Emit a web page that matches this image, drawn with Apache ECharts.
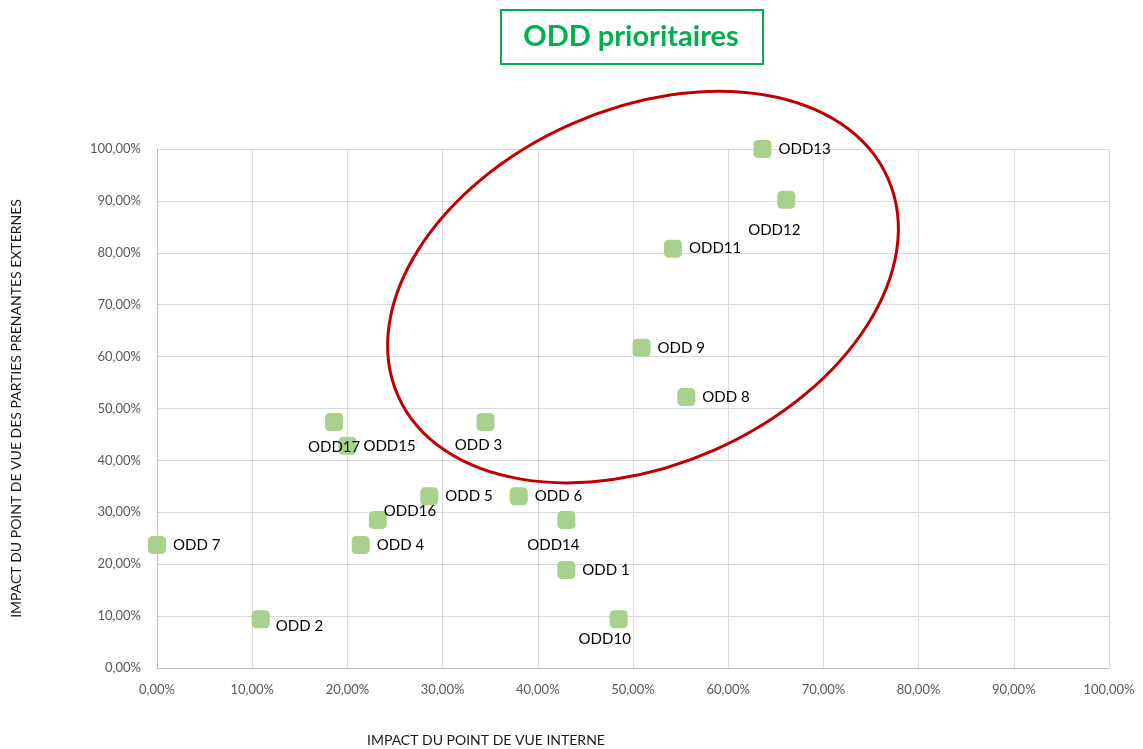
<!DOCTYPE html>
<html>
<head>
<meta charset="utf-8">
<script src="https://cdn.jsdelivr.net/npm/echarts@6/dist/echarts.min.js"></script>
<style>
html,body{margin:0;padding:0;background:#fff;}
#c{width:1143px;height:749px;}
</style>
</head>
<body>
<div id="c"></div>
<script>
// ---- Data (percent values) ----
var names   = ['ODD13','ODD12','ODD11','ODD 9','ODD 8','ODD 3','ODD17','ODD15','ODD 5','ODD 6','ODD16','ODD14','ODD 4','ODD 7','ODD 1','ODD 2','ODD10'];
var xValues = [63.6, 66.1, 54.2, 50.9, 55.6, 34.5, 18.6, 20.0, 28.6, 38.0, 23.2, 43.0, 21.4, 0.0, 43.0, 10.9, 48.5];
var yValues = [100.0, 90.2, 80.8, 61.7, 52.2, 47.4, 47.4, 42.8, 33.1, 33.1, 28.5, 28.5, 23.7, 23.7, 18.9, 9.4, 9.4];
var axisTicks = [0, 10, 20, 30, 40, 50, 60, 70, 80, 90, 100];
var chartTitle = 'ODD prioritaires';
var xAxisTitle = 'IMPACT DU POINT DE VUE INTERNE';
var yAxisTitle = 'IMPACT DU POINT DE VUE DES PARTIES PRENANTES EXTERNES';
var ellipseCenter = [51.05, 73.4]; // in data units

// ---- label placement (style) ----
var labelStyle = {
  'ODD12': {position: 'bottom', distance: 14, offset: [-12, 0]},
  'ODD 3': {position: 'bottom', distance: 7, offset: [-7, 0]},
  'ODD17': {position: 'bottom', distance: 9, offset: [0, 0]},
  'ODD16': {position: 'right', distance: 5, offset: [-8, -9]},
  'ODD14': {position: 'bottom', distance: 9, offset: [-13, 0]},
  'ODD 2': {position: 'right', distance: 6, offset: [0, 7]},
  'ODD10': {position: 'bottom', distance: 3, offset: [-14, 0]}
};

var FONT = 'Lato, "Open Sans", sans-serif';
function pct(v){ return v.toFixed(2).replace('.', ',') + '%'; }

var seriesData = names.map(function(n, i){
  var d = {name: n, value: [xValues[i], yValues[i]]};
  var ls = labelStyle[n];
  d.label = ls ? {position: ls.position, distance: ls.distance, offset: ls.offset}
               : {position: 'right', distance: 7};
  return d;
});

var chart = echarts.init(document.getElementById('c'), null, {renderer: 'canvas'});
var option = {
  animation: false,
  backgroundColor: '#ffffff',
  grid: {left: 157, right: 34, top: 149, bottom: 81, containLabel: false},
  xAxis: {
    type: 'value', min: axisTicks[0], max: axisTicks[axisTicks.length-1], interval: 10,
    axisLine: {show: true, lineStyle: {color: '#bfbfbf', width: 1}},
    axisTick: {show: false},
    splitLine: {show: true, lineStyle: {color: '#d9d9d9', width: 1}},
    axisLabel: {formatter: pct, color: '#595959', fontFamily: FONT, fontSize: 13, margin: 15}
  },
  yAxis: {
    type: 'value', min: axisTicks[0], max: axisTicks[axisTicks.length-1], interval: 10,
    axisLine: {show: true, lineStyle: {color: '#bfbfbf', width: 1}},
    axisTick: {show: false},
    splitLine: {show: true, lineStyle: {color: '#d9d9d9', width: 1}},
    axisLabel: {formatter: pct, color: '#595959', fontFamily: FONT, fontSize: 13, margin: 16},
    name: yAxisTitle, nameLocation: 'middle', nameGap: 134, nameRotate: 90,
    nameTextStyle: {color: '#1a1a1a', fontFamily: FONT, fontSize: 14}
  },
  series: [{
    type: 'scatter',
    symbol: 'roundRect',
    symbolSize: 18,
    itemStyle: {color: '#a9d18e', opacity: 1},
    label: {show: true, formatter: '{b}', color: '#000', fontFamily: FONT, fontSize: 15},
    data: seriesData,
    z: 3
  }]
};
chart.setOption(option);

var c = chart.convertToPixel({gridIndex: 0}, ellipseCenter);
chart.setOption({
  graphic: [
    {
      type: 'ellipse', x: c[0], y: c[1], rotation: 24 * Math.PI / 180,
      shape: {cx: 0, cy: 0, rx: 268, ry: 178},
      style: {fill: 'none', stroke: '#c00000', lineWidth: 3},
      z: 10, silent: true
    },
    {
      type: 'rect', left: 500, top: 9,
      shape: {width: 262, height: 54},
      style: {fill: '#fff', stroke: '#00b050', lineWidth: 2},
      z: 10
    },
    {
      type: 'text', x: 631, y: 37,
      style: {text: chartTitle, fill: '#00b050', font: 'bold 29px ' + FONT, align: 'center', verticalAlign: 'middle'},
      z: 11
    },
    {
      type: 'text', x: 367, y: 740,
      style: {text: xAxisTitle, fill: '#1a1a1a', font: '14px ' + FONT, align: 'left', verticalAlign: 'middle'},
      z: 11
    }
  ]
});
</script>
</body>
</html>
